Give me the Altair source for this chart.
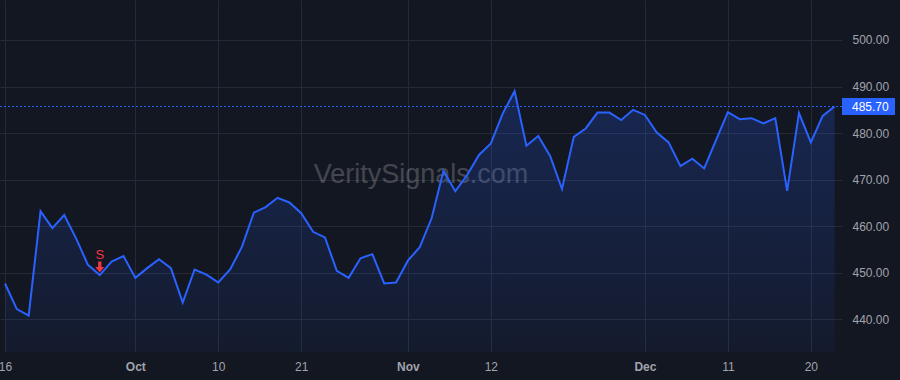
import altair as alt
import pandas as pd

# ---- data ----
dates = [
    "2024-09-16", "2024-09-17", "2024-09-18", "2024-09-19", "2024-09-20",
    "2024-09-23", "2024-09-24", "2024-09-25", "2024-09-26", "2024-09-27",
    "2024-09-30", "2024-10-01", "2024-10-02", "2024-10-03", "2024-10-04",
    "2024-10-07", "2024-10-08", "2024-10-09", "2024-10-10", "2024-10-11",
    "2024-10-14", "2024-10-15", "2024-10-16", "2024-10-17", "2024-10-18",
    "2024-10-21", "2024-10-22", "2024-10-23", "2024-10-24", "2024-10-25",
    "2024-10-28", "2024-10-29", "2024-10-30", "2024-10-31", "2024-11-01",
    "2024-11-04", "2024-11-05", "2024-11-06", "2024-11-07", "2024-11-08",
    "2024-11-11", "2024-11-12", "2024-11-13", "2024-11-14", "2024-11-15",
    "2024-11-18", "2024-11-19", "2024-11-20", "2024-11-21", "2024-11-22",
    "2024-11-25", "2024-11-26", "2024-11-27", "2024-11-29", "2024-12-02",
    "2024-12-03", "2024-12-04", "2024-12-05", "2024-12-06", "2024-12-09",
    "2024-12-10", "2024-12-11", "2024-12-12", "2024-12-13", "2024-12-16",
    "2024-12-17", "2024-12-18", "2024-12-19", "2024-12-20", "2024-12-23",
    "2024-12-24",
]
closes = [
    447.7, 442.2, 440.8, 463.2, 459.6, 462.4, 457.4, 451.7, 449.5, 452.4,
    453.6, 448.9, 451.0, 452.9, 451.0, 443.6, 450.7, 449.6, 447.9, 450.7,
    455.6, 462.9, 464.1, 466.1, 465.1, 462.8, 458.8, 457.6, 450.4, 448.9,
    453.1, 454.0, 447.7, 447.9, 452.6, 455.5, 461.7, 471.9, 467.5, 471.0,
    475.3, 477.8, 484.2, 489.0, 477.3, 479.4, 475.1, 468.0, 479.2, 481.0,
    484.4, 484.4, 482.8, 485.0, 483.9, 480.1, 478.0, 472.9, 474.5, 472.4,
    478.5, 484.5, 483.0, 483.2, 482.1, 483.2, 467.6, 484.3, 478.0, 483.7,
    485.7,
]
tick_dates = ["2024-09-16", "2024-10-01", "2024-10-10", "2024-10-21", "2024-11-01",
              "2024-11-12", "2024-12-02", "2024-12-11", "2024-12-20"]
tick_labels = ["16", "Oct", "10", "21", "Nov", "12", "Dec", "11", "20"]
y_ticks = [440, 450, 460, 470, 480, 490, 500]
last_price = [485.70]
signal_dates = ["2024-09-26"]
signal_labels = ["S"]
watermark = ["VeritySignals.com"]

# ---- layout / style ----
W, H = 842, 352
BG = "#131722"
BLUE = "#2962ff"
RED = "#f23645"
GRID = "#252a36"
LABEL = "#a0a3ab"
FONT = "Liberation Sans"

df = pd.DataFrame({"date": dates, "close": closes})
df["i"] = range(len(df))
tick_idx = [dates.index(d) for d in tick_dates]

sig = df[df["date"].isin(signal_dates)].copy()
sig["label"] = signal_labels

label_expr = "''"
for idx, lab in reversed(list(zip(tick_idx, tick_labels))):
    label_expr = f"datum.value == {idx} ? '{lab}' : {label_expr}"
bold_test = " || ".join(f"datum.value == {idx}" for idx, lab in zip(tick_idx, tick_labels)
                        if not lab.isdigit())

x_scale = alt.Scale(domain=[-0.42, 70.63], nice=False, zero=False)
y_scale = alt.Scale(domain=[432.98, 508.59], nice=False, zero=False)

x_axis = alt.Axis(
    values=tick_idx, labelExpr=label_expr, title=None, grid=True, gridColor=GRID,
    ticks=False, tickSize=0, domain=False, labelColor=LABEL, labelFont=FONT,
    labelFontSize=12, labelPadding=9, labelFlush=False,
    labelFontWeight={"condition": {"test": bold_test, "value": "bold"}, "value": "normal"},
)
y_axis = alt.Axis(
    orient="right", values=y_ticks, format=".2f", title=None, grid=True, gridColor=GRID,
    ticks=False, tickSize=0, domain=False, labelColor=LABEL, labelFont=FONT,
    labelFontSize=12, labelPadding=10,
)

base = alt.Chart(df)

wm = alt.Chart(pd.DataFrame({"t": watermark})).mark_text(
    font=FONT, fontSize=27, color="#ffffff", opacity=0.2, align="center", baseline="middle"
).encode(text="t:N", x=alt.value(W / 2), y=alt.value(175))

area = base.mark_area(
    color=alt.Gradient(
        gradient="linear", x1=0, y1=0, x2=0, y2=1,
        stops=[alt.GradientStop(color="rgba(41,98,255,0.22)", offset=0),
               alt.GradientStop(color="rgba(41,98,255,0.05)", offset=1)],
    )
).encode(
    x=alt.X("i:Q", scale=x_scale, axis=x_axis),
    y=alt.Y("close:Q", scale=y_scale, axis=y_axis),
    y2=alt.datum(432.98),
)

line = base.mark_line(color=BLUE, strokeWidth=2).encode(
    x=alt.X("i:Q", scale=x_scale),
    y=alt.Y("close:Q", scale=y_scale),
)

pdf = pd.DataFrame({"p": last_price})
price_rule = alt.Chart(pdf).mark_rule(color=BLUE, strokeDash=[2, 2], strokeWidth=1).encode(
    y=alt.Y("p:Q", scale=y_scale), x=alt.value(0), x2=alt.value(W)
)
price_box = alt.Chart(pdf).mark_rule(color=BLUE, strokeWidth=17, strokeCap="butt").encode(
    y=alt.Y("p:Q", scale=y_scale), x=alt.value(W), x2=alt.value(895)
)
price_text = alt.Chart(pdf).mark_text(
    color="#ffffff", font=FONT, fontSize=12, align="left", baseline="middle"
).encode(
    y=alt.Y("p:Q", scale=y_scale), x=alt.value(W + 10), text=alt.Text("p:Q", format=".2f")
)

arrow_path = "M-0.3,-1L0.3,-1L0.3,0L0.8,0L0,1L-0.8,0L-0.3,0Z"
sig_arrow = alt.Chart(sig).mark_point(
    shape=arrow_path, filled=True, size=121, color=RED, opacity=1, yOffset=-8
).encode(x=alt.X("i:Q", scale=x_scale), y=alt.Y("close:Q", scale=y_scale))
sig_text = alt.Chart(sig).mark_text(
    color=RED, font=FONT, fontSize=13, baseline="middle", dy=-20
).encode(x=alt.X("i:Q", scale=x_scale), y=alt.Y("close:Q", scale=y_scale), text="label:N")

chart = alt.layer(
    wm, area, line, price_rule, price_box, price_text, sig_arrow, sig_text
).properties(
    width=W, height=H, background=BG,
    autosize=alt.AutoSizeParams(type="none"),
    padding={"left": 0, "top": 0, "right": 900 - W, "bottom": 380 - H},
).configure_view(strokeWidth=0, fill=BG)

chart.save("out.html", embed_options={"renderer": "svg", "actions": False})
